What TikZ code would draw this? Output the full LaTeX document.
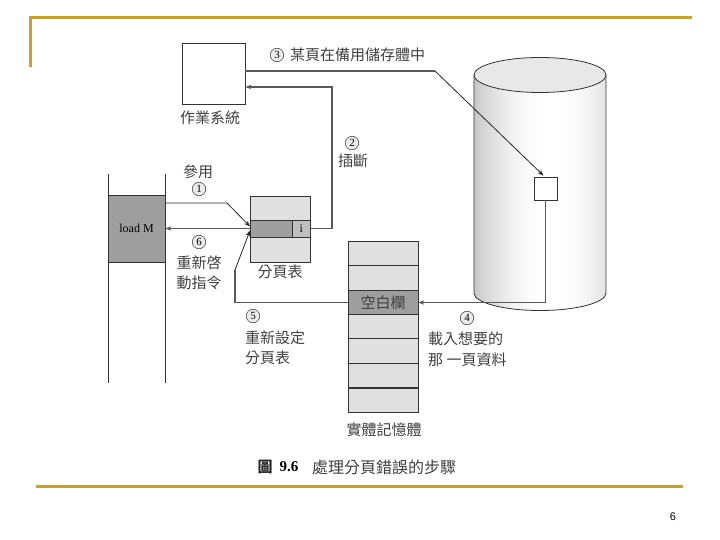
\documentclass[tikz,border=0pt]{standalone}
\usepackage{fontspec}
\setmainfont{Liberation Serif}
\newfontfamily\cjk{Noto Sans CJK TC}
\newfontfamily\pgnum{Liberation Sans}
\usetikzlibrary{arrows.meta,calc}
\definecolor{gold}{HTML}{C8A02A}
\begin{document}
\begin{tikzpicture}[x=1pt,y=-1pt,
  lab/.style={font=\cjk\fontsize{15}{17}\selectfont, text=black!75, inner sep=0pt},
  num/.style={circle,draw=black!70,fill=black!8,inner sep=0pt,minimum size=13.5pt,line width=0.6pt,font=\fontsize{11}{11}\selectfont},
  conn/.style={draw=black!65,line width=1.5pt},
  thinc/.style={draw=black!85,line width=0.8pt},
  tip/.style={-{Stealth[length=6pt,width=4.5pt]}},
  cell/.style={draw=black!80,line width=0.7pt,minimum width=70pt,minimum height=24.5pt,inner sep=0pt,fill=black!12}]
\useasboundingbox (0,0) rectangle (720,540);
% gold frame lines
\draw[gold,line width=3pt] (30,67) -- (30,18) -- (692,18);
\draw[gold,line width=3pt] (36,486) -- (683,486);
% cylinder body with strip shading
\begin{scope}
\clip (474,75) -- (474,293) arc[start angle=180,end angle=0,x radius=66,y radius=17.5] -- (606,75) -- cycle;
\foreach \i in {0,...,65}{
  \pgfmathsetmacro{\xx}{474+2*\i}
  \pgfmathsetmacro{\tt}{abs(\xx+1-552)/78}
  \pgfmathsetmacro{\gg}{22*\tt*\tt}
  \fill[black!\gg] (\xx,60) rectangle (\xx+2.2,320);
}
\end{scope}
\draw[black!80,line width=0.8pt] (474,75) -- (474,293) arc[start angle=180,end angle=0,x radius=66,y radius=17.5] -- (606,75);
\draw[black!80,line width=0.8pt,fill=black!9] (540,75) ellipse[x radius=66,y radius=17.5];
\node[draw=black!80,fill=white,line width=0.8pt,minimum size=23pt,inner sep=0pt] (blk) at (545.5,188.5) {};
% OS box
\node[draw=black!80,fill=white,line width=0.8pt,minimum width=63pt,minimum height=61pt,inner sep=0pt] (os) at (213.5,73.5) {};
\node[lab] (oslab) at (210,118) {作業系統};
% process
\draw[black!80,line width=0.8pt] (108,174) -- (108,383);
\draw[black!80,line width=0.8pt] (165,174) -- (165,383);
\node[draw=black!80,fill=black!38,line width=0.7pt,minimum width=57pt,minimum height=67pt,inner sep=0pt,font=\fontsize{12}{12}\selectfont] (loadM) at (136.5,228.5) {load M};
% page table
\node[draw=black!80,fill=black!12,line width=0.7pt,minimum width=60pt,minimum height=66pt,inner sep=0pt] (pt) at (280,229) {};
\node[draw=black!80,fill=black!38,line width=0.7pt,minimum width=42pt,minimum height=17pt,inner sep=0pt,anchor=west] (ptmid) at (250,228.5) {};
\node[draw=black!80,fill=black!25,line width=0.7pt,minimum width=18pt,minimum height=17pt,inner sep=0pt,anchor=west,font=\fontsize{12}{12}\selectfont] (icell) at (292,228.5) {i};
\node[lab] (ptlab) at (280,272) {分頁表};
% physical memory
\node[cell] (m1) at (383,254) {};
\node[cell] (m2) at (383,278) {};
\node[cell,fill=black!38,font=\cjk\fontsize{15}{17}\selectfont,text=black!75] (free) at (383,302.5) {空白欄};
\node[cell] (m4) at (383,327) {};
\node[cell] (m5) at (383,351) {};
\node[cell] (m6) at (383,375.5) {};
\node[cell] (m7) at (383,400.5) {};
\node[lab] (memlab) at (384,430) {實體記憶體};
% connectors
\coordinate (c1) at (227,203);
\draw[thinc,tip] (loadM.east |- c1) -- (c1) -- ($(ptmid.west)+(0,-2)$);
\draw[conn,tip] (ptmid.west) -- (loadM.east);
\coordinate (c2a) at (332,228.5);
\coordinate (c2b) at (332,87);
\draw[conn,tip] (icell.east) -- (c2a) -- (c2b) -- (os.east |- c2b);
\coordinate (c3a) at (435,71);
\draw[conn] (os.east |- c3a) -- (c3a);
\draw[thinc,tip] (c3a) -- ($(blk.north)+(-2,-1)$);
\coordinate (c4) at (545.5,302.5);
\draw[conn,tip] (blk.south) -- (c4) -- (free.east);
\coordinate (c5a) at (235,302.5);
\coordinate (c5b) at (235,270);
\draw[conn] (free.west) -- (c5a) -- (c5b);
\draw[thinc,tip] (c5b) -- ($(ptmid.west)+(0,2)$);
% labels
\node[num] (n3) at (277,55) {3};
\node[lab,anchor=west] (l3) at (290,55) {某頁在備用儲存體中};
\node[num] (n2) at (352,143) {2};
\node[lab] (l2) at (353,161) {插斷};
\node[lab] (l1) at (198,172) {參用};
\node[num] (n1) at (199,189) {1};
\node[num] (n6) at (199,242) {6};
\node[lab] (l6a) at (199,263) {重新啓};
\node[lab] (l6b) at (199,283) {動指令};
\node[num] (n5) at (253,316) {5};
\node[lab,anchor=west] (l5a) at (245,338) {重新設定};
\node[lab,anchor=west] (l5b) at (245,358) {分頁表};
\node[num] (n4) at (467,318) {4};
\node[lab,anchor=west] (l4a) at (428,339) {載入想要的};
\node[lab,anchor=west] (l4b) at (428,360) {那 一頁資料};
% caption
\node[lab,text=black!85] (cap1) at (265,467) {\textbf{圖}};
\node[inner sep=0pt,font=\bfseries\fontsize{15}{15}\selectfont] (cap2) at (289,467) {9.6};
\node[lab,anchor=west,font=\cjk\fontsize{16}{18}\selectfont] (cap3) at (312,467) {處理分頁錯誤的步驟};
\node[inner sep=0pt,font=\pgnum\fontsize{11}{11}\selectfont] (pg) at (673,517) {6};
\end{tikzpicture}
\end{document}
